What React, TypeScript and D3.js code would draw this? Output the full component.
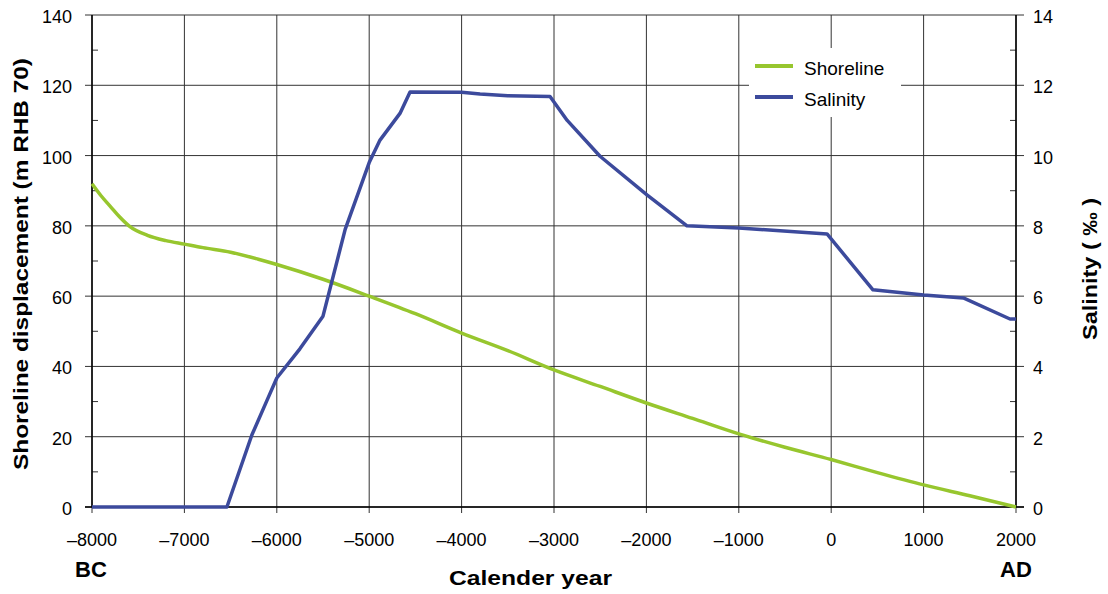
import React from "react";
import * as d3 from "d3";

const shoreYears = [-8000, -7900, -7800, -7700, -7600, -7400, -7200, -7000, -6800, -6500, -6200, -6000, -5500, -5000, -4500, -4000, -3500, -3000, -2500, -2000, -1500, -1000, -500, 0, 500, 1000, 1500, 2000];
const shoreVals = [92, 88.5, 85.5, 82.5, 80, 77.3, 75.8, 74.8, 73.8, 72.5, 70.5, 69, 64.8, 60, 55, 49.5, 44.5, 39, 34.3, 29.6, 25.2, 20.8, 17, 13.5, 9.8, 6.3, 3.2, 0];

const salYears = [-8000, -6540, -6270, -6105, -6000, -5750, -5500, -5260, -5000, -4883, -4667, -4558, -4000, -3800, -3500, -3043, -2857, -2502, -1994, -1561, -1000, -45, 452, 1000, 1430, 1935, 2000];
const salVals = [0, 0, 2.05, 3.04, 3.67, 4.5, 5.43, 7.9, 9.8, 10.44, 11.2, 11.81, 11.8, 11.75, 11.7, 11.68, 11.0, 9.98, 8.88, 8.0, 7.94, 7.77, 6.18, 6.03, 5.95, 5.35, 5.35];

const xTicks = [-8000, -7000, -6000, -5000, -4000, -3000, -2000, -1000, 0, 1000, 2000];
const leftTicks = [0, 20, 40, 60, 80, 100, 120, 140];
const leftMinor = [10, 30, 50, 70, 90, 110, 130];
const rightTicks = [0, 2, 4, 6, 8, 10, 12, 14];
const rightMinor = [1, 3, 5, 7, 9, 11, 13];

const GREEN = "#97c62e";
const BLUE = "#3c4a9c";
const FONT = "'Liberation Sans', Arial, sans-serif";

const fmt = (v: number) => (v < 0 ? "\u2013" + Math.abs(v) : String(v));

export default function App() {
  const L = 92, R = 1016, T = 15, B = 507;
  const x = d3.scaleLinear().domain([-8000, 2000]).range([L, R]);
  const yL = d3.scaleLinear().domain([0, 140]).range([B, T]);
  const yR = d3.scaleLinear().domain([0, 14]).range([B, T]);

  const shoreLine = d3.line<number>().x((_, i) => x(shoreYears[i])).y((d) => yL(d)).curve(d3.curveMonotoneX);
  const salLine = d3.line<number>().x((_, i) => x(salYears[i])).y((d) => yR(d));

  return (
    <svg width={1108} height={594} style={{ position: "absolute", left: 0, top: 0, background: "#fff" }} fontFamily={FONT}>
      {/* grid */}
      {xTicks.map((t) => (
        <line key={"gx" + t} x1={x(t)} x2={x(t)} y1={T} y2={B + 6} stroke="#333" strokeWidth={1} />
      ))}
      {leftTicks.map((t) => (
        <line key={"gy" + t} x1={L - 7} x2={R + 8} y1={yL(t)} y2={yL(t)} stroke="#333" strokeWidth={1} />
      ))}
      {leftMinor.map((t) => (
        <line key={"lm" + t} x1={L} x2={L + 6} y1={yL(t)} y2={yL(t)} stroke="#333" />
      ))}
      {rightMinor.map((t) => (
        <line key={"rm" + t} x1={R - 6} x2={R} y1={yR(t)} y2={yR(t)} stroke="#333" />
      ))}
      <line x1={L} x2={L} y1={T} y2={B} stroke="#000" strokeWidth={1.5} />
      <line x1={R} x2={R} y1={T} y2={B} stroke="#000" strokeWidth={1.5} />
      <line x1={L - 7} x2={R + 8} y1={B} y2={B} stroke="#000" strokeWidth={1.5} />

      {/* legend box */}
      <rect x={749} y={48} width={152} height={69} fill="#fff" />
      <line x1={755} x2={793} y1={66} y2={66} stroke={GREEN} strokeWidth={4} />
      <line x1={755} x2={793} y1={97} y2={97} stroke={BLUE} strokeWidth={4} />
      <text x={804} y={75} fontSize={19}>Shoreline</text>
      <text x={804} y={106} fontSize={19}>Salinity</text>

      {/* series */}
      <path d={shoreLine(shoreVals) || ""} fill="none" stroke={GREEN} strokeWidth={3.5} />
      <path d={salLine(salVals) || ""} fill="none" stroke={BLUE} strokeWidth={3.5} strokeLinejoin="round" />

      {/* tick labels */}
      {leftTicks.map((t) => (
        <text key={"lt" + t} x={72} y={yL(t) + 8} fontSize={18} textAnchor="end">{t}</text>
      ))}
      {rightTicks.map((t) => (
        <text key={"rt" + t} x={1033} y={yR(t) + 8} fontSize={18}>{t}</text>
      ))}
      {xTicks.map((t) => (
        <text key={"xt" + t} x={x(t)} y={546} fontSize={18} textAnchor="middle">{fmt(t)}</text>
      ))}

      {/* titles */}
      <text x={91} y={577} fontSize={22} fontWeight="bold" textAnchor="middle">BC</text>
      <text x={1016} y={577} fontSize={22} fontWeight="bold" textAnchor="middle">AD</text>
      <text x={530.5} y={585} fontSize={21} fontWeight="bold" textAnchor="middle" textLength={163} lengthAdjust="spacingAndGlyphs">Calender year</text>
      <text transform="translate(28,264) rotate(-90)" fontSize={21} fontWeight="bold" textAnchor="middle" textLength={412} lengthAdjust="spacingAndGlyphs">Shoreline displacement (m RHB 70)</text>
      <text transform="translate(1097,269) rotate(-90)" fontSize={21} fontWeight="bold" textAnchor="middle" textLength={142} lengthAdjust="spacingAndGlyphs">Salinity ( ‰ )</text>
    </svg>
  );
}
